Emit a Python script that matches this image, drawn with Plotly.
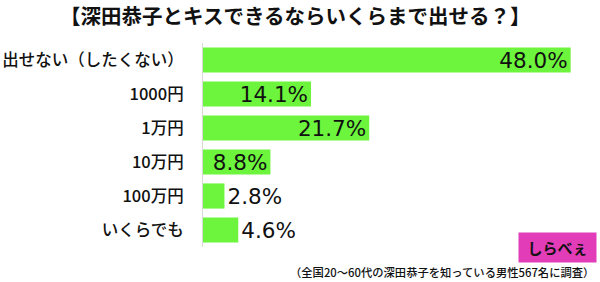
import plotly.graph_objects as go

categories = ["出せない（したくない）", "1000円", "1万円", "10万円", "100万円", "いくらでも"]
values = [48.0, 14.1, 21.7, 8.8, 2.8, 4.6]
labels = [f"{v:.1f}%" for v in values]

title_text = "【深田恭子とキスできるならいくらまで出せる？】"
note_text = "（全国20～60代の深田恭子を知っている男性567名に調査）"

FONT = "Noto Sans CJK JP"
NUMFONT = "DejaVu Sans, Noto Sans CJK JP"
LABFONT = "Noto Sans CJK JP Medium, Noto Sans CJK JP"
W, H = 600, 282
L, R, T, B = 203, 13.5, 43, 35
pw = W - L - R
ph = H - T - B

def px(x):
    return (x - L) / pw

def py(y):
    return (H - B - y) / ph

tf = dict(family=NUMFONT, size=21.5, color="#111111")

fig = go.Figure(go.Bar(
    x=values, y=categories, orientation="h",
    marker=dict(color="#6cf53c", line=dict(width=0)),
    text=labels, textposition="auto", insidetextanchor="end",
    textfont=tf, insidetextfont=tf, outsidetextfont=tf,
    constraintext="none", cliponaxis=False,
    hoverinfo="skip",
))

fig.update_layout(
    width=W, height=H,
    margin=dict(l=L, r=R, t=T, b=B, autoexpand=False),
    paper_bgcolor="white", plot_bgcolor="white",
    bargap=0.26, showlegend=False,
    font=dict(family=FONT, color="#111111"),
    xaxis=dict(range=[0, 50], showticklabels=False, showgrid=False,
               zeroline=False, showline=False, fixedrange=True,
               automargin=False),
    yaxis=dict(autorange="reversed", showgrid=False, zeroline=False,
               showline=True, linecolor="#d8d8d8", linewidth=1,
               ticks="", ticklabelstandoff=15, automargin=False,
               tickfont=dict(family=LABFONT, size=16.5, color="#111111")),
    annotations=[
        dict(text=f"<b>{title_text}</b>", x=px(295.5), y=py(15),
             xref="paper", yref="paper", showarrow=False,
             xanchor="center", yanchor="middle",
             font=dict(family=FONT, size=20.5, color="#111111")),
        dict(text=note_text, x=px(597), y=py(272),
             xref="paper", yref="paper", showarrow=False,
             xanchor="right", yanchor="middle",
             font=dict(family=LABFONT, size=11.3, color="#111111")),
        dict(text="<b>しらべぇ</b>", x=px(557.5), y=py(247.5),
             xref="paper", yref="paper", showarrow=False,
             xanchor="center", yanchor="middle",
             width=77, height=29, bgcolor="#e23cb8", borderpad=0,
             font=dict(family=FONT, size=15, color="#111111")),
    ],
)

fig.write_html("out.html")
